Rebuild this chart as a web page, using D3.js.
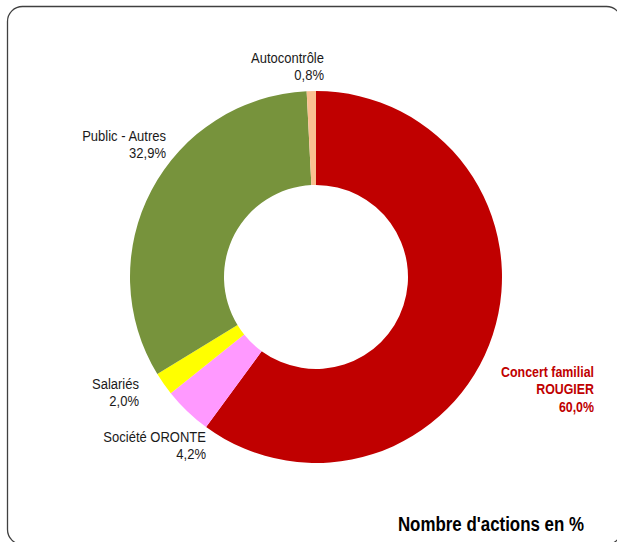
<!DOCTYPE html>
<html>
<head>
<meta charset="utf-8">
<script src="https://cdn.jsdelivr.net/npm/d3@7"></script>
<style>
  html, body { margin: 0; padding: 0; background: #fff; }
  svg { display: block; }
  text { font-family: "Liberation Sans", Arial, sans-serif; }
</style>
</head>
<body>
<svg id="chart" width="617" height="542"></svg>
<script>
// ---- data ----
const categories = ["Concert familial ROUGIER", "Société ORONTE", "Salariés", "Public - Autres", "Autocontrôle"];
const labelLines = [["Concert familial", "ROUGIER"], ["Société ORONTE"], ["Salariés"], ["Public - Autres"], ["Autocontrôle"]];
const values = [60.0, 4.2, 2.0, 32.9, 0.8];
const valueLabels = ["60,0%", "4,2%", "2,0%", "32,9%", "0,8%"];
const colors = ["#C00000", "#FF99FF", "#FFFF00", "#77933C", "#FAC090"];
const title = "Nombre d'actions en %";

// ---- layout (positions of labels: right edge x, first baseline y) ----
const labelLayout = [
  { x: 594, y: 377, bold: true, color: "#C00000" },
  { x: 206, y: 442, bold: false, color: "#1a1a1a" },
  { x: 139, y: 389, bold: false, color: "#1a1a1a" },
  { x: 166, y: 141, bold: false, color: "#1a1a1a" },
  { x: 324, y: 63, bold: false, color: "#1a1a1a" }
];

const svg = d3.select("#chart");

// frame
svg.append("rect")
  .attr("x", 7.5).attr("y", 6.5)
  .attr("width", 614).attr("height", 538)
  .attr("rx", 15).attr("ry", 15)
  .attr("fill", "#fff")
  .attr("stroke", "#404040")
  .attr("stroke-width", 1.3);

const cx = 316, cy = 277, rOuter = 186, rInner = 92;

const pie = d3.pie().sort(null).value(d => d)
  .startAngle(0).endAngle(2 * Math.PI);
const arc = d3.arc().innerRadius(rInner).outerRadius(rOuter);

const g = svg.append("g").attr("transform", `translate(${cx},${cy})`);
g.selectAll("path")
  .data(pie(values))
  .join("path")
  .attr("d", arc)
  .attr("fill", (d, i) => colors[i]);

// labels
const fs = 15.5, lh = 17.5;
categories.forEach((c, i) => {
  const L = labelLayout[i];
  const sx = L.bold ? 0.8 : 0.84;
  const lines = labelLines[i].concat([valueLabels[i]]);
  const t = svg.append("g")
    .attr("transform", `translate(${L.x},${L.y}) scale(${sx},1)`)
    .append("text")
    .attr("text-anchor", "end")
    .attr("font-size", fs)
    .attr("font-weight", L.bold ? "bold" : "normal")
    .attr("fill", L.color);
  lines.forEach((ln, k) => {
    t.append("tspan").attr("x", 0).attr("y", k * lh).text(ln);
  });
});

// title
svg.append("g")
  .attr("transform", `translate(584,531) scale(0.805,1)`)
  .append("text")
  .attr("text-anchor", "end")
  .attr("font-size", 21)
  .attr("font-weight", "bold")
  .attr("fill", "#000")
  .text(title);
</script>
</body>
</html>
